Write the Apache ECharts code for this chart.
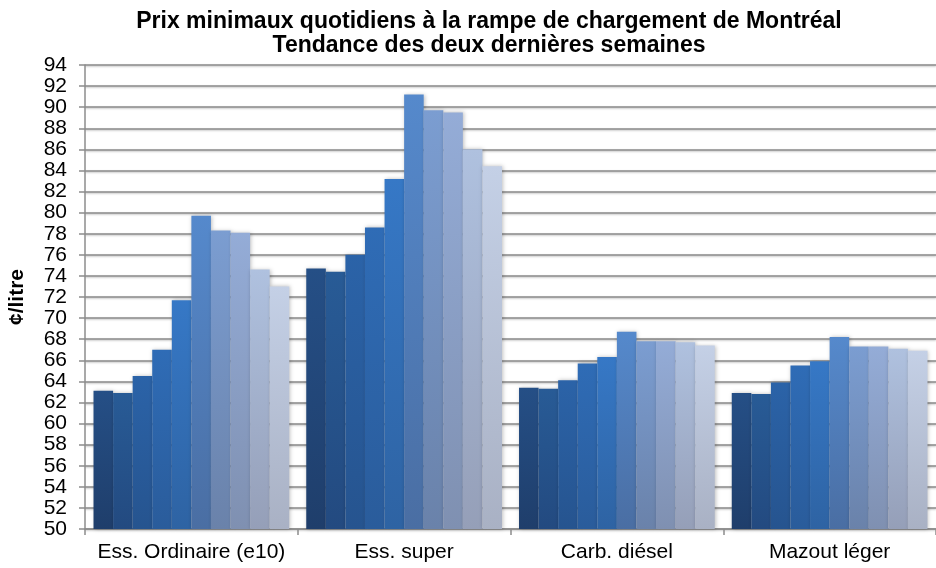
<!DOCTYPE html>
<html>
<head>
<meta charset="utf-8">
<script src="https://cdn.jsdelivr.net/npm/echarts@6/dist/echarts.min.js"></script>
<style>
html, body { margin: 0; padding: 0; background: #fff; }
#chart { width: 936px; height: 568px; }
</style>
</head>
<body>
<div id="chart"></div>
<script>
var categories = ['Ess. Ordinaire (e10)', 'Ess. super', 'Carb. diésel', 'Mazout léger'];
var seriesNames = ['Jour 1', 'Jour 2', 'Jour 3', 'Jour 4', 'Jour 5', 'Jour 6', 'Jour 7', 'Jour 8', 'Jour 9', 'Jour 10'];
// one row per day (series), one value per category
var values = [
	[63.1, 74.7, 63.4, 62.9],
	[62.9, 74.4, 63.3, 62.8],
	[64.5, 76.0, 64.1, 63.9],
	[67.0, 78.6, 65.7, 65.5],
	[71.7, 83.2, 66.3, 65.9],
	[79.7, 91.2, 68.7, 68.2],
	[78.3, 89.7, 67.8, 67.3],
	[78.1, 89.5, 67.8, 67.3],
	[74.6, 86.0, 67.7, 67.1],
	[73.0, 84.4, 67.4, 66.9]
];
var topColors = ['#254f86', '#285b96', '#2b63a8', '#2f6cb6', '#3678c6', '#5589cc', '#7b9dd1', '#94acd7', '#afc1df', '#c4d0e6'];
var bottomColors = ['#1f3e6b', '#234a80', '#26548f', '#2a5c9b', '#2e63a3', '#4a6ea3', '#6a82aa', '#7f90b1', '#959fb8', '#a9b1c4'];

var chart = echarts.init(document.getElementById('chart'));

var series = seriesNames.map(function (name, i) {
	return {
		name: name,
		type: 'bar',
		barGap: '0%',
		barCategoryGap: '8%',
		data: values[i],
		itemStyle: {
			color: new echarts.graphic.LinearGradient(0, 0, 0, 1, [
				{ offset: 0, color: topColors[i] },
				{ offset: 1, color: bottomColors[i] }
			]),
			shadowBlur: 4,
			shadowColor: 'rgba(0,0,0,0.25)',
			shadowOffsetX: 1,
			shadowOffsetY: 0
		}
	};
});

var option = {
	animation: false,
	title: {
		text: 'Prix minimaux quotidiens à la rampe de chargement de Montréal\nTendance des deux dernières semaines',
		left: 489,
		top: 10,
		padding: 0,
		textAlign: 'center',
		textStyle: {
			fontFamily: 'Liberation Sans, Arial, sans-serif',
			fontSize: 23,
			fontWeight: 'bold',
			color: '#000',
			lineHeight: 24
		}
	},
	grid: {
		left: 85,
		right: 0,
		top: 65,
		bottom: 39,
		containLabel: false,
		outerBoundsMode: 'none'
	},
	xAxis: {
		type: 'category',
		data: categories,
		axisLine: { lineStyle: { color: '#8c8c8c', width: 1.5 } },
		axisTick: { show: true, interval: 0, length: 6, lineStyle: { color: '#8c8c8c', width: 1.5 } },
		axisLabel: {
			interval: 0,
			margin: 13,
			fontFamily: 'Liberation Sans, Arial, sans-serif',
			fontSize: 21,
			color: '#000'
		}
	},
	yAxis: {
		type: 'value',
		min: 50,
		max: 94,
		interval: 2,
		name: '¢/litre',
		nameLocation: 'middle',
		nameGap: 57,
		nameTextStyle: {
			fontFamily: 'Liberation Sans, Arial, sans-serif',
			fontSize: 21,
			fontWeight: 'bold',
			color: '#000'
		},
		axisLine: { show: true, lineStyle: { color: '#8c8c8c', width: 1.5 } },
		axisTick: { show: true, length: 6, lineStyle: { color: '#8c8c8c', width: 1.5 } },
		axisLabel: {
			margin: 18,
			fontFamily: 'Liberation Sans, Arial, sans-serif',
			fontSize: 21,
			color: '#000'
		},
		splitLine: {
			show: true,
			lineStyle: {
				color: '#8a8a8a',
				width: 1.5,
				shadowBlur: 2,
				shadowColor: 'rgba(0,0,0,0.25)',
				shadowOffsetY: 1
			}
		}
	},
	series: series
};

chart.setOption(option);
</script>
</body>
</html>
